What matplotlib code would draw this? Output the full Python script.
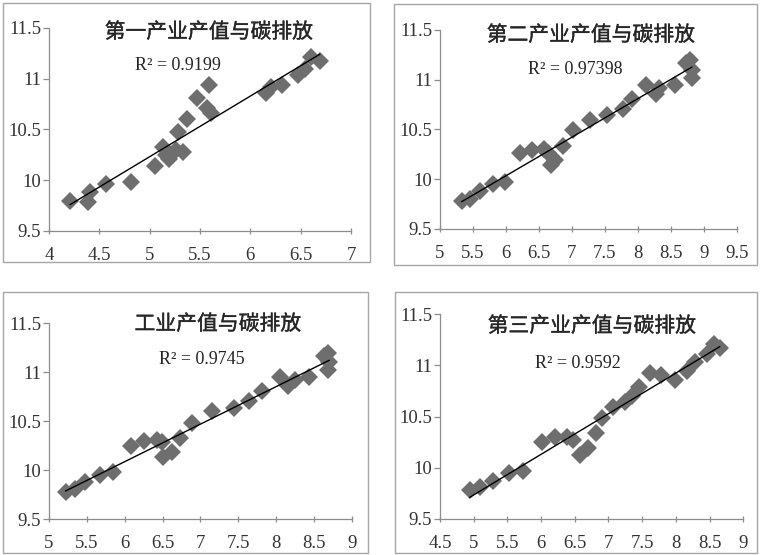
import matplotlib
matplotlib.use("Agg")
import matplotlib.pyplot as plt
import matplotlib.patheffects as pe
import numpy as np
from matplotlib.patches import Rectangle
from matplotlib.ticker import FormatStrFormatter, MultipleLocator

# Panel titles and R^2 labels as printed on the chart
titles = ["第一产业产值与碳排放", "第二产业产值与碳排放", "工业产值与碳排放", "第三产业产值与碳排放"]
r2_labels = ["R² = 0.9199", "R² = 0.97398", "R² = 0.9745", "R² = 0.9592"]

# Primary industry output (ln) vs carbon emission (ln)
primary_x = [4.21, 4.39, 4.41, 4.57, 4.81, 5.05, 5.13, 5.16, 5.19, 5.26, 5.28, 5.33,
             5.37, 5.47, 5.57, 5.59, 5.61, 6.16, 6.21, 6.31, 6.47, 6.54, 6.60, 6.69]
primary_y = [9.80, 9.79, 9.88, 9.96, 9.98, 10.14, 10.33, 10.25, 10.21, 10.30, 10.48, 10.28,
             10.60, 10.81, 10.71, 10.94, 10.66, 10.86, 10.92, 10.94, 11.04, 11.10, 11.21, 11.17]

# Secondary industry
secondary_x = [5.33, 5.46, 5.60, 5.81, 5.99, 6.21, 6.39, 6.57, 6.64, 6.68, 6.74, 6.86, 7.01,
               7.28, 7.54, 7.77, 7.91, 8.13, 8.27, 8.32, 8.56, 8.73, 8.79, 8.82, 8.82]
secondary_y = [9.78, 9.80, 9.88, 9.95, 9.97, 10.26, 10.29, 10.30, 10.26, 10.14, 10.19, 10.33, 10.49,
               10.60, 10.65, 10.71, 10.81, 10.95, 10.86, 10.92, 10.95, 11.17, 11.20, 11.10, 11.02]

# Industry
industry_x = [5.22, 5.34, 5.48, 5.67, 5.84, 6.08, 6.26, 6.43, 6.49, 6.51, 6.62, 6.73, 6.89,
              7.16, 7.45, 7.64, 7.81, 8.05, 8.16, 8.25, 8.43, 8.63, 8.69, 8.70, 8.69]
industry_y = [9.78, 9.81, 9.88, 9.95, 9.98, 10.25, 10.30, 10.31, 10.29, 10.14, 10.19, 10.33, 10.48,
              10.60, 10.64, 10.71, 10.81, 10.95, 10.86, 10.92, 10.95, 11.17, 11.20, 11.10, 11.02]

# Tertiary industry
tertiary_x = [4.94, 5.10, 5.29, 5.52, 5.73, 6.02, 6.20, 6.38, 6.48, 6.58, 6.70, 6.82, 6.91,
              7.07, 7.24, 7.35, 7.46, 7.61, 7.78, 7.98, 8.16, 8.29, 8.46, 8.57, 8.65]
tertiary_y = [9.78, 9.81, 9.87, 9.95, 9.97, 10.25, 10.30, 10.30, 10.27, 10.13, 10.19, 10.34, 10.49,
              10.59, 10.64, 10.70, 10.79, 10.93, 10.91, 10.86, 10.95, 11.03, 11.11, 11.21, 11.17]

x_series = [primary_x, secondary_x, industry_x, tertiary_x]
y_series = [primary_y, secondary_y, industry_y, tertiary_y]
x_limits = [(4, 7), (5, 9.5), (5, 9), (4.5, 9)]


def main():
    plt.rcParams['font.family'] = ['Liberation Serif', 'DejaVu Serif']
    fig = plt.figure(figsize=(7.61, 5.55), dpi=100)

    # Axes rectangles and panel frames (figure fractions)
    axes_rects = [
        [0.0644, 0.5838, 0.3968, 0.3658],
        [0.5782, 0.5874, 0.3899, 0.3586],
        [0.0644, 0.0643, 0.3978, 0.3532],
        [0.5782, 0.0649, 0.3985, 0.3688],
    ]
    frames = [
        (0.0039, 0.5279, 0.4823, 0.4667),
        (0.5177, 0.5225, 0.4770, 0.4703),
        (0.0039, 0.0036, 0.4796, 0.4703),
        (0.5190, 0.0036, 0.4757, 0.4703),
    ]
    # Text positions in pixels (title centre, R^2 centre)
    title_pos = [(209, 32), (591, 35), (218, 324), (592, 326)]
    r2_pos = [(178, 66), (575, 70), (202, 360), (578, 363)]

    for i in range(4):
        fx, fy, fw, fh = frames[i]
        fig.patches.append(Rectangle((fx, fy), fw, fh, transform=fig.transFigure,
                                     fill=False, edgecolor="#a6a6a6", linewidth=1.0))

        ax = fig.add_axes(axes_rects[i])
        x = np.array(x_series[i])
        y = np.array(y_series[i])

        # Scatter of the data
        ax.plot(x, y, linestyle="none", marker="D", markersize=9,
                color="#6e6e6e", markeredgewidth=0, zorder=2)

        # Linear trend line
        slope, intercept = np.polyfit(x, y, 1)
        line_x = np.array([x.min(), x.max()])
        ax.plot(line_x, slope * line_x + intercept, color="black", linewidth=1.0, zorder=3)

        ax.set_xlim(*x_limits[i])
        ax.set_ylim(9.5, 11.5)
        ax.xaxis.set_major_locator(MultipleLocator(0.5))
        ax.yaxis.set_major_locator(MultipleLocator(0.5))
        ax.xaxis.set_major_formatter(FormatStrFormatter('%g'))
        ax.yaxis.set_major_formatter(FormatStrFormatter('%g'))

        for side in ["top", "right"]:
            ax.spines[side].set_visible(False)
        for side in ["left", "bottom"]:
            ax.spines[side].set_color("#8c8c8c")
            ax.spines[side].set_linewidth(0.9)
        ax.tick_params(axis="x", direction="inout", length=5, width=0.9, color="#8c8c8c",
                       labelsize=13.5, labelcolor="#333333", pad=9)
        ax.tick_params(axis="y", direction="out", length=4.5, width=0.9, color="#8c8c8c",
                       labelsize=13.5, labelcolor="#333333", pad=1)

        # Title, slightly thickened to look like a medium-weight heiti face
        tx, ty = title_pos[i]
        fig.text(tx / 761, 1 - ty / 555, titles[i], ha="center", va="center",
                 fontsize=15, family=['Noto Sans CJK SC', 'DejaVu Sans'], color="#262626",
                 path_effects=[pe.withStroke(linewidth=0.25, foreground="#262626")])
        rx, ry = r2_pos[i]
        fig.text(rx / 761, 1 - ry / 555, r2_labels[i], ha="center", va="center",
                 fontsize=13, color="#222222")

    fig.savefig("out.png", dpi=100)


if __name__ == '__main__':
    main()
